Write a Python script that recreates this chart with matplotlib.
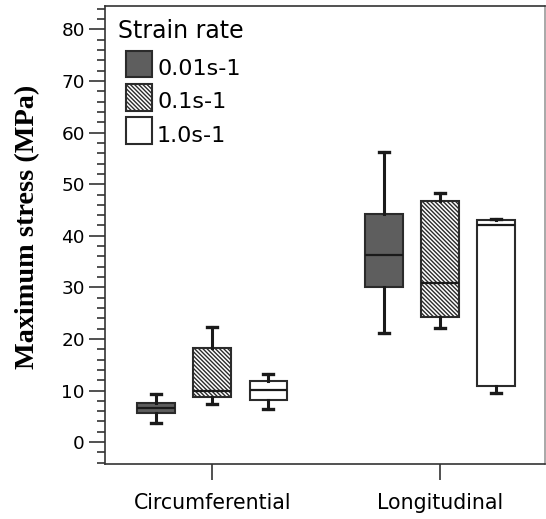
import matplotlib
matplotlib.use('Agg')
import matplotlib.pyplot as plt
from matplotlib.patches import Patch, Rectangle
from matplotlib.legend_handler import HandlerPatch
from matplotlib.ticker import MultipleLocator, FixedLocator

# ---- data ----
categories = ['Circumferential', 'Longitudinal']
series_labels = ['0.01s-1', '0.1s-1', '1.0s-1']
legend_title = 'Strain rate'
# per category: [lower whisker, Q1, median, Q3, upper whisker]
rate_001 = [[3.8, 5.7, 6.6, 7.5, 9.4], [21.1, 30.0, 36.3, 44.2, 56.3]]
rate_01 = [[7.35, 8.8, 10.0, 18.2, 22.4], [22.2, 24.3, 30.9, 46.8, 48.2]]
rate_10 = [[6.45, 8.1, 10.1, 11.9, 13.2], [9.6, 10.8, 42.0, 43.1, 43.25]]
y_ticks = [0, 10, 20, 30, 40, 50, 60, 70, 80]

series_data = [rate_001, rate_01, rate_10]
faces = ['#5e5e5e', 'white', 'white']
hatches = [None, '\\' * 8, None]
edge = '#2b2b2b'

plt.rcParams['hatch.linewidth'] = 1.0
plt.rcParams['font.family'] = ['DejaVu Sans']

fig = plt.figure(figsize=(5.46, 5.19), dpi=100)
ax = fig.add_axes([0.1923, 0.1054, 0.8059, 0.8836])

offsets = [-0.246, 0.0, 0.246]
width = 0.165
for s, (data, fc, hatch, off) in enumerate(zip(series_data, faces, hatches, offsets)):
    stats = []
    for vals in data:
        lo, q1, med, q3, hi = vals
        stats.append(dict(whislo=lo, q1=q1, med=med, q3=q3, whishi=hi, fliers=[]))
    pos = [i + off for i in range(len(categories))]
    ax.bxp(stats, positions=pos, widths=width, capwidths=0.045,
           patch_artist=True, showfliers=False, manage_ticks=False,
           boxprops=dict(facecolor=fc, edgecolor=edge, linewidth=1.5, hatch=hatch),
           medianprops=dict(color='#1a1a1a', linewidth=1.6),
           whiskerprops=dict(color='#1a1a1a', linewidth=2.2),
           capprops=dict(color='#1a1a1a', linewidth=2.4))

ax.set_xlim(-0.471, 1.461)
ax.set_ylim(-4.3, 84.6)
ax.set_xticks(range(len(categories)))
ax.set_xticklabels(categories, fontsize=14.8)
ax.yaxis.set_major_locator(FixedLocator(y_ticks))
ax.yaxis.set_minor_locator(MultipleLocator(2))
ax.tick_params(axis='y', which='major', length=11.5, width=1.2, direction='out',
               labelsize=13.3, pad=3, color='#333333')
ax.tick_params(axis='y', which='minor', length=5.8, width=1.2, direction='out', color='#333333')
ax.tick_params(axis='x', which='major', length=11.5, width=1.2, direction='out',
               pad=9, color='#333333')

for name, sp in ax.spines.items():
    sp.set_color('#333333')
    sp.set_linewidth(1.2)
ax.spines['right'].set_color('#9a9a9a')

ax.set_ylabel('Maximum stress (MPa)', fontfamily='Liberation Serif',
              fontweight='bold', fontsize=20.3)
ax.yaxis.set_label_coords(-0.148, 0.517)

SIDE = 19.2  # points
FS = 16
HH = 1.931
DESC = 0.35 * FS * (HH - 0.7)


def square_handle(legend, orig_handle, xdescent, ydescent, width, height, fontsize):
    return Rectangle((-xdescent + width - SIDE, -ydescent + DESC - 1.65), SIDE, SIDE)


handles = [Patch(facecolor=fc, edgecolor=edge, hatch=h, linewidth=1.5)
           for fc, h in zip(faces, hatches)]
leg = ax.legend(handles, series_labels, loc='upper left',
                bbox_to_anchor=(0.047, 0.9005), frameon=False, fontsize=FS,
                handlelength=SIDE / FS, handleheight=HH,
                labelspacing=0.0, handletextpad=0.21, borderpad=0,
                borderaxespad=0,
                handler_map={Patch: HandlerPatch(patch_func=square_handle)})
ax.text(0.029, 0.9302, legend_title, transform=ax.transAxes, fontsize=17,
        ha='left', va='baseline')

fig.savefig('out.png', dpi=100)
